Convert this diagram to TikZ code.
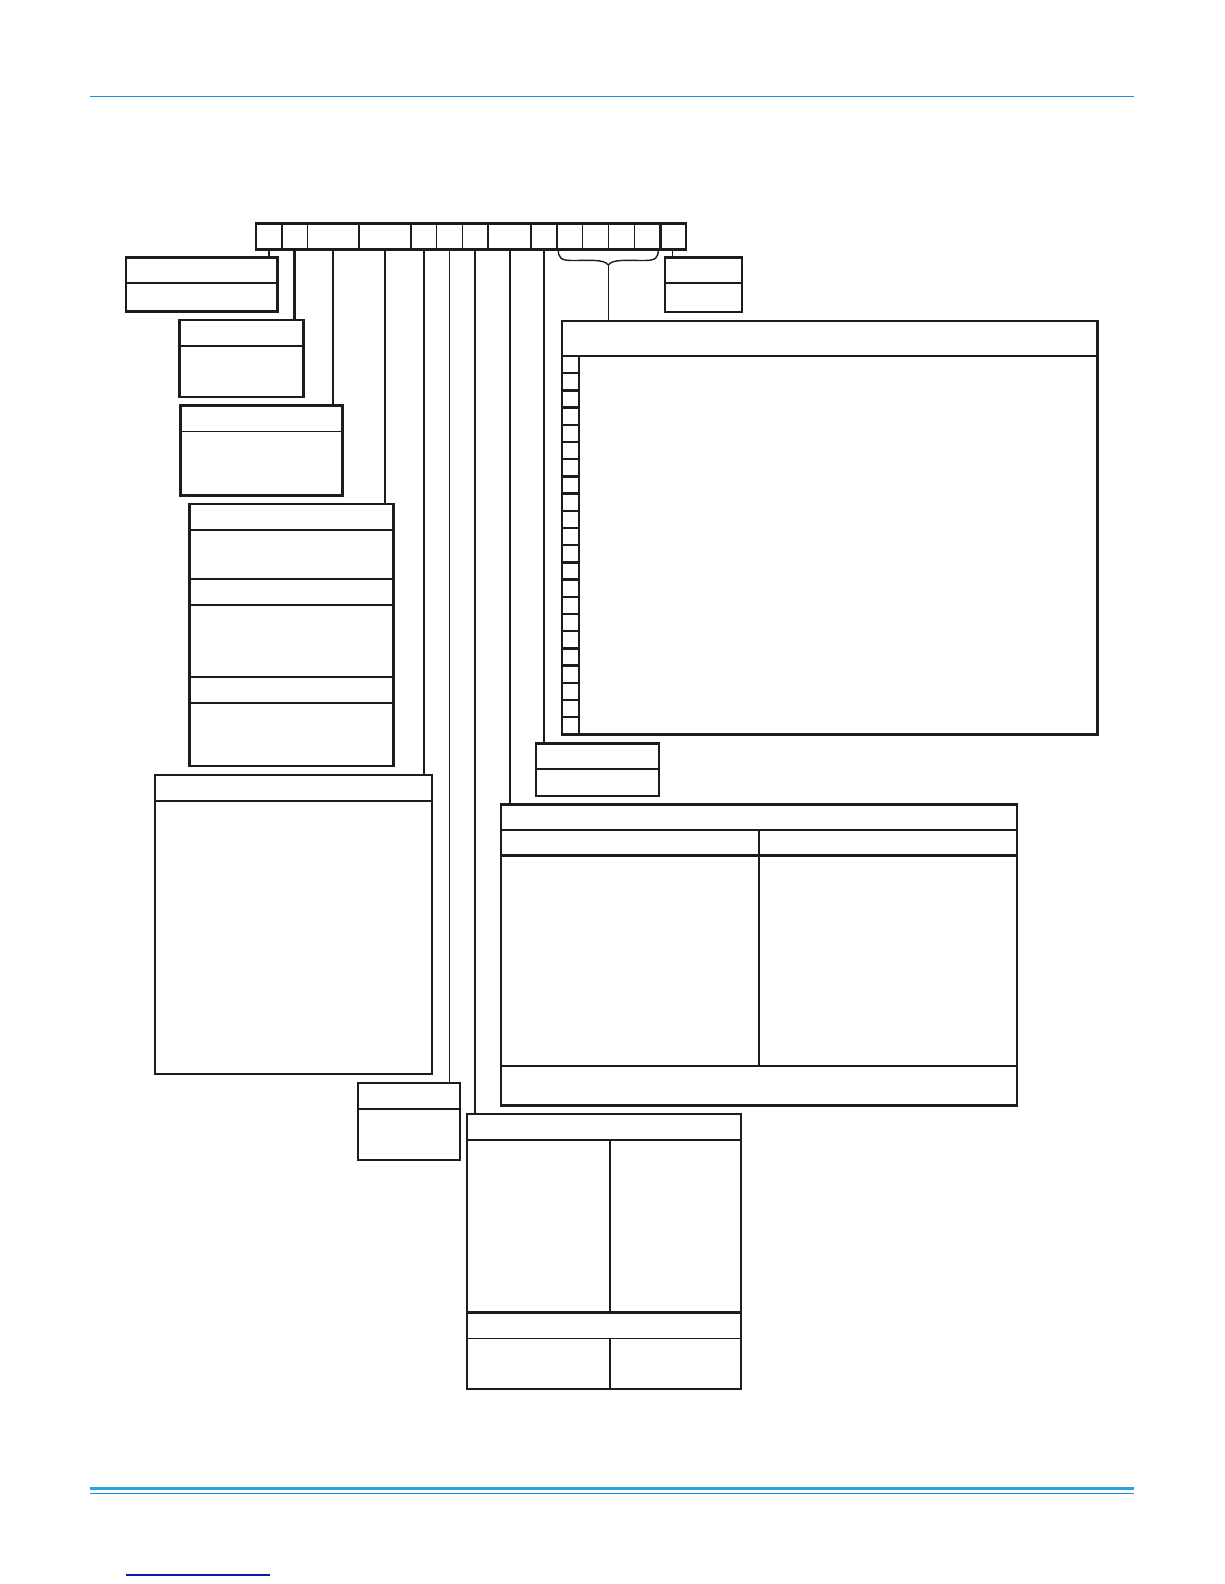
\documentclass[tikz,border=0pt]{standalone}
\usetikzlibrary{calc}
\definecolor{hdrblue}{RGB}{35,140,212}
\definecolor{ftrblue}{RGB}{45,160,225}
\definecolor{linkblue}{RGB}{20,20,170}
\definecolor{ink}{RGB}{28,28,28}
\tikzset{
  frame/.style={draw=ink, line width=2.4pt, inner sep=0pt, outer sep=0pt, anchor=north west},
  rule/.style={draw=ink, line width=2.4pt},
  thinrule/.style={draw=ink, line width=1.5pt},
  lead/.style={draw=ink, line width=2.4pt},
  thinlead/.style={draw=ink, line width=1.4pt},
}
\newcommand{\mkbox}[5]{\node[frame, minimum width=#4pt, minimum height=#5pt] (#1) at (#2,#3) {};}
\begin{document}
\begin{tikzpicture}[x=1pt,y=-1pt]
\fill[white] (0,0) rectangle (1224,1584);
\useasboundingbox (0,0) rectangle (1224,1584);

% page rules
\draw[hdrblue, line width=1.8pt] (90,96.5) -- (1134,96.5);
\draw[ftrblue, line width=3pt] (90,1488) -- (1134,1488);
\draw[hdrblue, line width=1.6pt] (90,1493.5) -- (1134,1493.5);
\draw[linkblue, line width=1.3pt] (126,1575) -- (270,1575);

% model-number bar
\mkbox{bar}{255.7}{223.3}{430.3}{26}
\foreach \x in {281.7,359,411,488,530.7,556.7,660.3}
  \draw[rule] (\x,223.3) -- (\x,249.3);
\foreach \x in {307.3,436.7,462.3,582.7,608.7,634.7}
  \draw[thinrule] (\x,223.3) -- (\x,249.3);

% boxes
\mkbox{b1}{125.7}{257.3}{151.6}{54}
\draw[rule] (125.7,283) -- (277.3,283);

\mkbox{b2}{179.3}{320}{124}{76.7}
\draw[rule] (179.3,346) -- (303.3,346);

\mkbox{b3}{180.3}{405.3}{162}{90}
\draw[thinrule] (180.3,431.7) -- (342.3,431.7);

\mkbox{b4}{189.3}{504}{204}{262}
\foreach \y in {530,579,605,677,702.7}
  \draw[rule] (189.3,\y) -- (393.3,\y);

\mkbox{b5}{154.7}{774.7}{277.3}{299.3}
\draw[rule] (154.7,800.7) -- (432,800.7);

\mkbox{b6}{357.7}{1082.7}{102.3}{77.3}
\draw[rule] (357.7,1108.7) -- (460,1108.7);

\mkbox{rs}{664.7}{257.3}{77.3}{54.4}
\draw[rule] (664.7,283) -- (742,283);

\mkbox{st}{535.7}{743.3}{123.3}{52.7}
\draw[rule] (535.7,769) -- (659,769);

\mkbox{big}{562}{321}{535.3}{413.3}
\draw[rule] (562,356) -- (1097.3,356);
\draw[rule] (578.7,356) -- (578.7,734.3);
\foreach \k in {1,...,21}
  \draw[rule] (562,{356+\k*17.2}) -- (578.7,{356+\k*17.2});

\mkbox{mid}{501}{804.3}{516}{301}
\draw[rule] (501,829.7) -- (1017,829.7);
\draw[rule] (501,855.5) -- (1017,855.5);
\draw[rule] (758.7,829.7) -- (758.7,1066);
\draw[rule] (501,1066) -- (1017,1066);

\mkbox{bot}{466.7}{1114}{274.3}{275}
\draw[rule] (466.7,1140) -- (741,1140);
\draw[rule] (610,1140) -- (610,1312.3);
\draw[rule] (466.7,1312.3) -- (741,1312.3);
\draw[thinrule] (466.7,1338.7) -- (741,1338.7);
\draw[rule] (610,1338.7) -- (610,1389);

% leader taps on the bar
\coordinate (t1) at (269,249.3);
\coordinate (t2) at (294.3,249.3);
\coordinate (t3) at (333,249.3);
\coordinate (t4) at (385,249.3);
\coordinate (t5) at (423.7,249.3);
\coordinate (t6) at (449.3,249.3);
\coordinate (t7) at (475,249.3);
\coordinate (t8) at (510,249.3);
\coordinate (t9) at (544,249.3);
\coordinate (t10) at (672.7,249.3);
\coordinate (brtip) at (608.3,265);

\draw[thinlead] (t1) -- (t1 |- b1.north);
\draw[lead] (t2) -- (t2 |- b2.north);
\draw[lead] (t3) -- (t3 |- b3.north);
\draw[lead] (t4) -- (t4 |- b4.north);
\draw[lead] (t5) -- (t5 |- b5.north);
\draw[thinlead] (t6) -- (t6 |- b6.north);
\draw[lead] (t7) -- (t7 |- bot.north);
\draw[lead] (t8) -- (t8 |- mid.north);
\draw[lead] (t9) -- (t9 |- st.north);
\draw[thinlead] (t10) -- (t10 |- rs.north);

% brace over the option digits
\draw[thinlead] (558.3,249.3) .. controls (558.3,258) and (561,260.5) .. (572,260.5)
  .. controls (590,260.5) and (604,259) .. (brtip)
  .. controls (612.6,259) and (626,260.5) .. (644.6,260.5)
  .. controls (655.6,260.5) and (658.3,258) .. (658.3,249.3);
\draw[thinlead] (brtip) -- (brtip |- big.north);
\end{tikzpicture}
\end{document}
